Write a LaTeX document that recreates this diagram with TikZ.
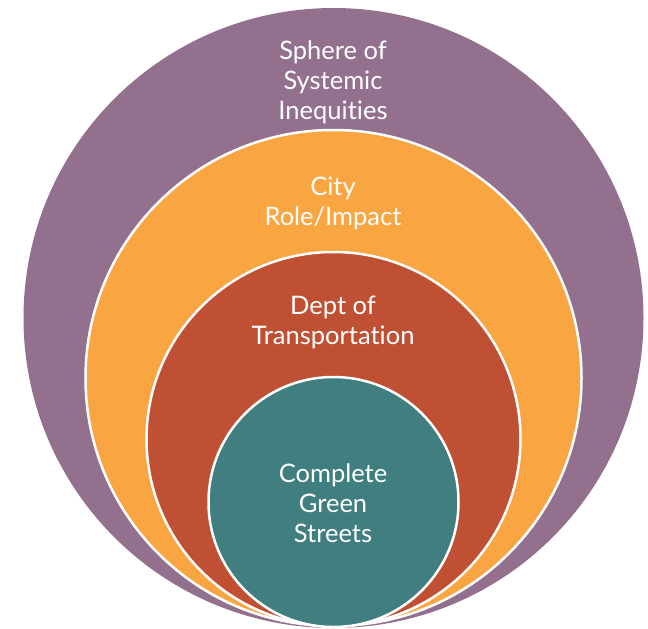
\documentclass[tikz,border=0pt]{standalone}
\usepackage{fontspec}
\setmainfont{Lato}[Ligatures={NoCommon}]
\definecolor{cpurple}{HTML}{94708F}
\definecolor{corange}{HTML}{F9A541}
\definecolor{cred}{HTML}{C05033}
\definecolor{cteal}{HTML}{417E80}
\begin{document}
\begin{tikzpicture}[x=1pt,y=-1pt,
  ring/.style={circle, inner sep=0pt, draw=white, line width=2.5pt},
  lbl/.style={text=white, align=center, font=\fontsize{25.5}{30}\selectfont}]
\useasboundingbox (0,0) rectangle (648,629);
\node[ring, fill=cpurple, draw=none, minimum size=620] (outer) at (333.5,318) {};
\node[ring, fill=corange, minimum size=496] (city) at (333.5,378) {};
\node[ring, fill=cred, minimum size=374] (dept) at (333.5,439) {};
\node[ring, fill=cteal, minimum size=250] (cgs) at (333.5,502) {};
\node[lbl] (t1) at (333,82) {Sphere of\\Systemic\\Inequities};
\node[lbl] (t2) at (333,203) {City\\Role/Impact};
\node[lbl] (t3) at (333,322) {Dept of\\Transportation};
\node[lbl] (t4) at (333,503) {Complete\\Green\\Streets};
\end{tikzpicture}
\end{document}
